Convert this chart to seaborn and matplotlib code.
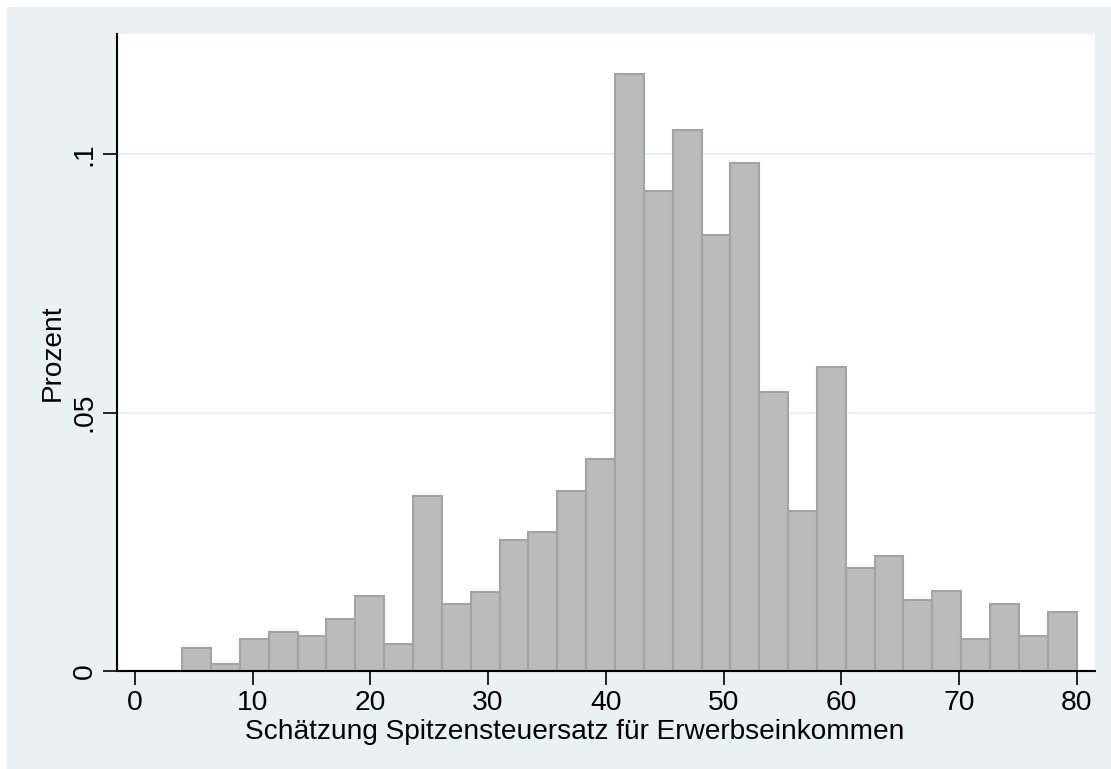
import numpy as np
import pandas as pd
import matplotlib.pyplot as plt
import seaborn as sns
from matplotlib.patches import Rectangle

sns.set_style("white")
plt.rcParams['font.family'] = ['Liberation Sans', 'DejaVu Sans']
plt.rcParams['text.color'] = 'black'
plt.rcParams['axes.labelcolor'] = 'black'
plt.rcParams['xtick.color'] = 'black'
plt.rcParams['ytick.color'] = 'black'

# bin edges: 31 bins from 4 to 80
bin_start = 4
bin_end = 80
n_bins = 31
heights = [0.0045, 0.0014, 0.0061, 0.0076, 0.0068, 0.0100, 0.0146, 0.0053,
           0.0339, 0.0130, 0.0153, 0.0254, 0.0270, 0.0348, 0.0410, 0.1156,
           0.0930, 0.1047, 0.0844, 0.0984, 0.0541, 0.0309, 0.0589, 0.0200,
           0.0223, 0.0138, 0.0154, 0.0061, 0.0130, 0.0068, 0.0115]
x_ticks = [0, 10, 20, 30, 40, 50, 60, 70, 80]
y_ticks = [0, 0.05, 0.1]
y_ticklabels = ['0', '.05', '.1']

edges = np.linspace(bin_start, bin_end, n_bins + 1)
df = pd.DataFrame({'satz': (edges[:-1] + edges[1:]) / 2, 'anteil': heights})

bg = '#EAF1F3'
fig = plt.figure(figsize=(11.11, 7.69), dpi=100)
fig.patch.set_facecolor(bg)
# thin white strip at top and left, like the original export
fig.add_artist(Rectangle((0, 0), 7 / 1111, 1, transform=fig.transFigure,
                         facecolor='white', edgecolor='none', zorder=-5))
fig.add_artist(Rectangle((0, 1 - 7 / 769), 1, 7 / 769, transform=fig.transFigure,
                         facecolor='white', edgecolor='none', zorder=-5))

ax = fig.add_axes([117 / 1111, 1 - 671 / 769, (1095 - 117) / 1111, (671 - 34) / 769])
ax.set_facecolor('white')

sns.histplot(data=df, x='satz', weights='anteil', bins=n_bins, binrange=(bin_start, bin_end),
             ax=ax, color='#BBBBBB', edgecolor='#A3A3A3', linewidth=1.5, alpha=1)

ax.set_xlim(-1.53, 81.56)
ax.set_ylim(0, 0.1233)

for y in y_ticks[1:]:
    ax.axhline(y, color='#EAF1F3', linewidth=1.6, zorder=0.5)

ax.set_xticks(x_ticks)
ax.set_yticks(y_ticks)
ax.set_yticklabels(y_ticklabels, rotation=90, va='center')
ax.tick_params(axis='both', direction='out', length=10, width=1.2,
               labelsize=20.3, pad=4, left=True, bottom=True)

for side in ['top', 'right']:
    ax.spines[side].set_visible(False)
for side in ['left', 'bottom']:
    ax.spines[side].set_color('black')
    ax.spines[side].set_linewidth(1.5)

# Stata places the x title a bit left of the axis centre
ax.set_xlabel('Schätzung Spitzensteuersatz für Erwerbseinkommen', fontsize=20.2, labelpad=2, x=0.468)
ax.set_ylabel('Prozent', fontsize=20.2, labelpad=4)

fig.savefig('out.png', dpi=100, facecolor=bg)
